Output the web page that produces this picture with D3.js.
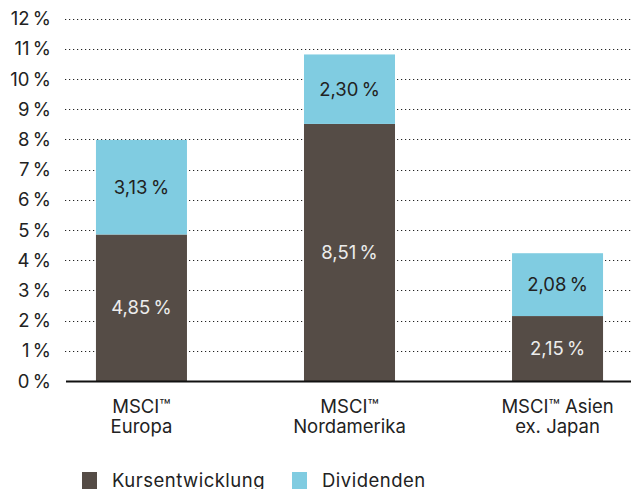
<!DOCTYPE html>
<html>
<head>
<meta charset="utf-8">
<script src="https://cdn.jsdelivr.net/npm/d3@7"></script>
<style>
  body { margin: 0; background: #fff; }
  svg { font-family: Inter, "Liberation Sans", sans-serif; }
</style>
</head>
<body>
<svg id="chart" width="631" height="489"></svg>
<script>
var categories = [["MSCI™", "Europa"], ["MSCI™", "Nordamerika"], ["MSCI™ Asien", "ex. Japan"]];
var kurs = [4.85, 8.51, 2.15];
var dividenden = [3.13, 2.30, 2.08];
var yTicks = [0, 1, 2, 3, 4, 5, 6, 7, 8, 9, 10, 11, 12];
var seriesNames = ["Kursentwicklung", "Dividenden"];
var colors = ["#554c46", "#80cce1"];

var svg = d3.select("#chart");
var fs = 18.5;

var x = d3.scaleBand()
  .domain(d3.range(categories.length))
  .range([66, 633])
  .paddingInner(0.5625)
  .paddingOuter(0.144);

var y = d3.scaleLinear().domain([0, 12]).range([381, 18.5]);

var fmt = function(v) { return v.toFixed(2).replace(".", ",") + "\u2009%"; };

// gridlines
svg.append("g").selectAll("line")
  .data(yTicks.filter(function(d) { return d > 0; }))
  .enter().append("line")
  .attr("x1", 65).attr("x2", 631)
  .attr("y1", function(d) { return Math.round(y(d)) + 0.5; })
  .attr("y2", function(d) { return Math.round(y(d)) + 0.5; })
  .attr("stroke", "#222")
  .attr("stroke-width", 1.2)
  .attr("stroke-dasharray", "1.2,2.8");

// y labels
svg.append("g").selectAll("text")
  .data(yTicks)
  .enter().append("text")
  .attr("x", 51)
  .attr("y", function(d) { return y(d); })
  .attr("dy", "0.36em")
  .attr("text-anchor", "end")
  .attr("font-size", fs)
  .attr("fill", "#222")
  .text(function(d) { return d + "\u2009%"; });

// bars
var g = svg.append("g");
categories.forEach(function(c, i) {
  var k = kurs[i], dv = dividenden[i];
  g.append("rect")
    .attr("x", x(i)).attr("width", x.bandwidth())
    .attr("y", y(k)).attr("height", y(0) - y(k))
    .attr("fill", colors[0]);
  g.append("rect")
    .attr("x", x(i)).attr("width", x.bandwidth())
    .attr("y", y(k + dv)).attr("height", y(k) - y(k + dv))
    .attr("fill", colors[1]);
  g.append("text")
    .attr("x", x(i) + x.bandwidth() / 2)
    .attr("y", (y(0) + y(k)) / 2)
    .attr("dy", "0.36em")
    .attr("text-anchor", "middle")
    .attr("font-size", fs)
    .attr("fill", "#ececec")
    .text(fmt(k));
  g.append("text")
    .attr("x", x(i) + x.bandwidth() / 2)
    .attr("y", (y(k) + y(k + dv)) / 2)
    .attr("dy", "0.36em")
    .attr("text-anchor", "middle")
    .attr("font-size", fs)
    .attr("fill", "#222")
    .text(fmt(dv));
});

// axis line
svg.append("line")
  .attr("x1", 66).attr("x2", 631)
  .attr("y1", y(0) + 0.5).attr("y2", y(0) + 0.5)
  .attr("stroke", "#111").attr("stroke-width", 2);

// category labels
categories.forEach(function(c, i) {
  var t = svg.append("text")
    .attr("text-anchor", "middle")
    .attr("font-size", fs)
    .attr("fill", "#222");
  c.forEach(function(line, j) {
    t.append("tspan")
      .attr("x", x(i) + x.bandwidth() / 2)
      .attr("y", 412.5 + j * 20.5)
      .text(line);
  });
});

// legend
var legX = [82, 292];
seriesNames.forEach(function(s, i) {
  svg.append("rect")
    .attr("x", legX[i]).attr("y", 472)
    .attr("width", 15).attr("height", 17)
    .attr("fill", colors[i]);
  svg.append("text")
    .attr("x", legX[i] + 30).attr("y", 486.5)
    .attr("font-size", fs)
    .attr("letter-spacing", 0.5)
    .attr("fill", "#222")
    .text(s);
});
</script>
</body>
</html>
